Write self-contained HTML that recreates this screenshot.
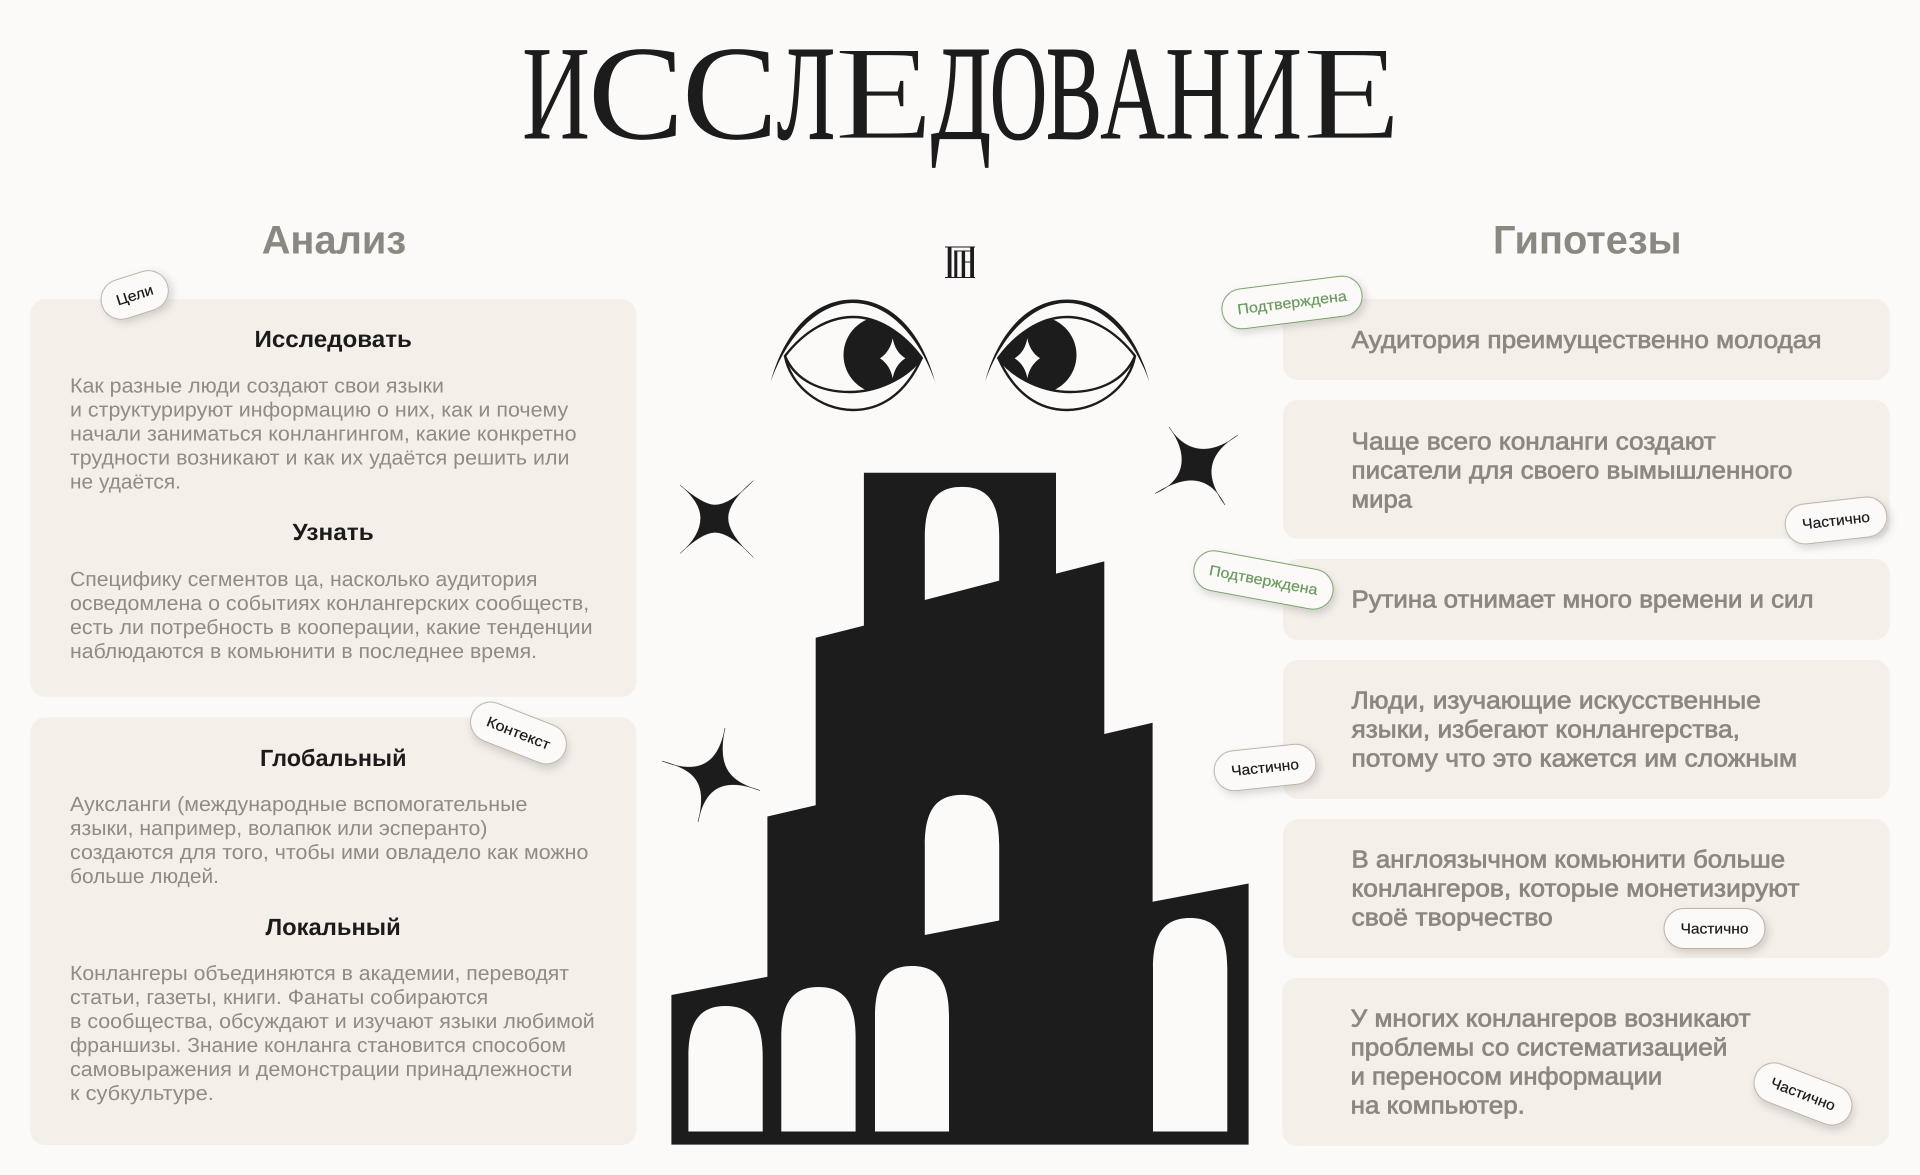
<!DOCTYPE html>
<html lang="ru">
<head>
<meta charset="utf-8">
<title>Исследование</title>
<style>
html,body{margin:0;padding:0;background:#fbfaf8;width:1920px;height:1175px;overflow:hidden}
svg{display:block;text-rendering:geometricPrecision}
text{font-family:"Liberation Sans",sans-serif}
.t{font-family:"Liberation Serif",serif;font-size:135px;fill:#1d1c1d}
.e{stroke:#fbfaf8;stroke-width:1.8px}
.f{stroke:#1d1c1d;stroke-width:1.2px}
.h{font-size:40px;font-weight:700;fill:#8a8880}
.s{font-size:23.5px;font-weight:700;fill:#1c1b1b}
.b{font-size:20.5px;fill:#8e8c85}
.r{font-size:24.5px;fill:#8a8880;stroke:#8a8880;stroke-width:.7px}
.p{font-size:14.5px;fill:#1a1a1a;stroke:#1a1a1a;stroke-width:.2px;text-anchor:middle}
.g{fill:#6a9a5e;stroke:#6a9a5e}
.pill{fill:#fbfaf8;stroke:#bdb1a6;stroke-width:1;filter:url(#sh)}
.gp{stroke:#76a068}
.card{fill:#f4efe9}
.k{fill:#1d1c1d}
.st{fill:#1d1c1d;stroke:#1d1c1d;stroke-width:.4px;stroke-linejoin:round}
.w{fill:#fbfaf8}
</style>
</head>
<body>
<svg width="1920" height="1175" viewBox="0 0 1920 1175" xmlns="http://www.w3.org/2000/svg">
<defs>
<filter id="sh" x="-30%" y="-50%" width="160%" height="220%"><feDropShadow dx="3" dy="4" stdDeviation="4" flood-color="#000" flood-opacity=".14"/></filter>
<clipPath id="lens"><path d="M785,356C805,330 830,317 853,317C880,317 905,335 921.7,358C905,380 875,392 850,392C820,392 795,380 785,356Z"/></clipPath>
<g id="eye">
<path class="k" d="M770.7,381.7C785,330 815,299.5 853,299.5C890,299.5 921,330 935,381.7C919,336 888,303 853,303C818,303 787,336 770.7,381.7Z"/>
<g clip-path="url(#lens)"><circle class="k" cx="882" cy="355" r="38.5"/><rect class="k" x="882" y="310" width="45" height="90"/></g>
<path fill="none" stroke="#1d1c1d" stroke-width="2.4" d="M785,356C805,330 830,317 853,317C880,317 905,335 921.7,358C905,380 875,392 850,392C820,392 795,380 785,356Z"/>
<path fill="none" stroke="#1d1c1d" stroke-width="2.4" d="M785,356C790,385 820,410 853,410C880,410 905,395 921.7,358"/>
<path class="w" d="M892.7,338.3Q895,352 905.4,358.3Q895,365 892.7,378.3Q890,365 880,358.3Q890,352 892.7,338.3Z"/>
</g>
</defs>

<rect width="1920" height="1175" fill="#fbfaf8"/>

<!-- title -->
<text class="t" x="522" y="138.5" textLength="68" lengthAdjust="spacingAndGlyphs">И</text>
<text class="t" x="588" y="138.5" textLength="96" lengthAdjust="spacingAndGlyphs">С</text>
<text class="t" x="682" y="138.5" textLength="96" lengthAdjust="spacingAndGlyphs">С</text>
<text class="t f" x="777" y="138.5" textLength="58" lengthAdjust="spacingAndGlyphs">Л</text>
<text class="t e" x="834" y="138.5" textLength="100" lengthAdjust="spacingAndGlyphs">Е</text>
<text class="t f" x="931" y="138.5" textLength="60" lengthAdjust="spacingAndGlyphs">Д</text>
<text class="t f" x="990" y="138.5" textLength="57" lengthAdjust="spacingAndGlyphs">О</text>
<text class="t f" x="1046" y="138.5" textLength="56" lengthAdjust="spacingAndGlyphs">В</text>
<text class="t" x="1100" y="138.5" textLength="65" lengthAdjust="spacingAndGlyphs">А</text>
<text class="t" x="1165" y="138.5" textLength="66" lengthAdjust="spacingAndGlyphs">Н</text>
<text class="t" x="1235" y="138.5" textLength="67" lengthAdjust="spacingAndGlyphs">И</text>
<text class="t e" x="1302" y="138.5" textLength="100" lengthAdjust="spacingAndGlyphs">Е</text>

<!-- headers -->
<text class="h" x="261.7" y="253.3" textLength="144.5" lengthAdjust="spacingAndGlyphs">Анализ</text>
<text class="h" x="1493" y="253.3" textLength="188.6" lengthAdjust="spacingAndGlyphs">Гипотезы</text>

<!-- cards -->
<rect class="card" x="30.3" y="299.3" width="606" height="397.5" rx="15"/>
<rect class="card" x="30.3" y="717.5" width="606" height="427.5" rx="15"/>
<rect class="card" x="1283" y="299" width="606.7" height="81" rx="15"/>
<rect class="card" x="1283" y="400" width="606.7" height="138.7" rx="15"/>
<rect class="card" x="1283" y="559" width="606.7" height="81" rx="15"/>
<rect class="card" x="1283" y="660" width="606.7" height="139" rx="15"/>
<rect class="card" x="1283" y="819" width="606.7" height="139" rx="15"/>
<rect class="card" x="1282.2" y="978" width="606.7" height="168" rx="15"/>

<!-- left text -->
<text class="s" x="254.5" y="347" textLength="157.4" lengthAdjust="spacingAndGlyphs">Исследовать</text>
<text class="b" x="70" y="392.3" textLength="374" lengthAdjust="spacingAndGlyphs">Как разные люди создают свои языки</text>
<text class="b" x="70" y="416.3" textLength="498.2" lengthAdjust="spacingAndGlyphs">и структурируют информацию о них, как и почему</text>
<text class="b" x="70" y="440.3" textLength="506.6" lengthAdjust="spacingAndGlyphs">начали заниматься конлангингом, какие конкретно</text>
<text class="b" x="70" y="464.3" textLength="499.4" lengthAdjust="spacingAndGlyphs">трудности возникают и как их удаётся решить или</text>
<text class="b" x="70" y="488.3" textLength="111" lengthAdjust="spacingAndGlyphs">не удаётся.</text>

<text class="s" x="292.5" y="540" textLength="81.2" lengthAdjust="spacingAndGlyphs">Узнать</text>
<text class="b" x="70" y="586" textLength="467.5" lengthAdjust="spacingAndGlyphs">Специфику сегментов ца, насколько аудитория</text>
<text class="b" x="70" y="610" textLength="519.2" lengthAdjust="spacingAndGlyphs">осведомлена о событиях конлангерских сообществ,</text>
<text class="b" x="70" y="634" textLength="522.6" lengthAdjust="spacingAndGlyphs">есть ли потребность в кооперации, какие тенденции</text>
<text class="b" x="70" y="658" textLength="467" lengthAdjust="spacingAndGlyphs">наблюдаются в комьюнити в последнее время.</text>

<text class="s" x="260" y="766" textLength="146.5" lengthAdjust="spacingAndGlyphs">Глобальный</text>
<text class="b" x="70" y="811" textLength="457.4" lengthAdjust="spacingAndGlyphs">Ауксланги (международные вспомогательные</text>
<text class="b" x="70" y="835" textLength="417.4" lengthAdjust="spacingAndGlyphs">языки, например, волапюк или эсперанто)</text>
<text class="b" x="70" y="859" textLength="518.4" lengthAdjust="spacingAndGlyphs">создаются для того, чтобы ими овладело как можно</text>
<text class="b" x="70" y="883" textLength="148.9" lengthAdjust="spacingAndGlyphs">больше людей.</text>

<text class="s" x="265.5" y="935" textLength="135.2" lengthAdjust="spacingAndGlyphs">Локальный</text>
<text class="b" x="70" y="980" textLength="499" lengthAdjust="spacingAndGlyphs">Конлангеры объединяются в академии, переводят</text>
<text class="b" x="70" y="1004" textLength="418.2" lengthAdjust="spacingAndGlyphs">статьи, газеты, книги. Фанаты собираются</text>
<text class="b" x="70" y="1028" textLength="524.7" lengthAdjust="spacingAndGlyphs">в сообщества, обсуждают и изучают языки любимой</text>
<text class="b" x="70" y="1052" textLength="496" lengthAdjust="spacingAndGlyphs">франшизы. Знание конланга становится способом</text>
<text class="b" x="70" y="1076" textLength="502.4" lengthAdjust="spacingAndGlyphs">самовыражения и демонстрации принадлежности</text>
<text class="b" x="70" y="1100" textLength="143.8" lengthAdjust="spacingAndGlyphs">к субкультуре.</text>

<!-- right text -->
<text class="r" x="1351.5" y="348" textLength="470" lengthAdjust="spacingAndGlyphs">Аудитория преимущественно молодая</text>
<text class="r" x="1351.5" y="449.3" textLength="364.3" lengthAdjust="spacingAndGlyphs">Чаще всего конланги создают</text>
<text class="r" x="1351.5" y="478.3" textLength="441" lengthAdjust="spacingAndGlyphs">писатели для своего вымышленного</text>
<text class="r" x="1351.5" y="507.3" textLength="60.5" lengthAdjust="spacingAndGlyphs">мира</text>
<text class="r" x="1351.5" y="607.6" textLength="462" lengthAdjust="spacingAndGlyphs">Рутина отнимает много времени и сил</text>
<text class="r" x="1351.5" y="708.6" textLength="409.4" lengthAdjust="spacingAndGlyphs">Люди, изучающие искусственные</text>
<text class="r" x="1351.5" y="737.6" textLength="388.4" lengthAdjust="spacingAndGlyphs">языки, избегают конлангерства,</text>
<text class="r" x="1351.5" y="766.6" textLength="445.6" lengthAdjust="spacingAndGlyphs">потому что это кажется им сложным</text>
<text class="r" x="1351.5" y="867.6" textLength="433.6" lengthAdjust="spacingAndGlyphs">В англоязычном комьюнити больше</text>
<text class="r" x="1351.5" y="896.6" textLength="448" lengthAdjust="spacingAndGlyphs">конлангеров, которые монетизируют</text>
<text class="r" x="1351.5" y="925.6" textLength="201.3" lengthAdjust="spacingAndGlyphs">своё творчество</text>
<text class="r" x="1350.6" y="1026.6" textLength="400" lengthAdjust="spacingAndGlyphs">У многих конлангеров возникают</text>
<text class="r" x="1350.6" y="1055.6" textLength="376.8" lengthAdjust="spacingAndGlyphs">проблемы со систематизацией</text>
<text class="r" x="1350.6" y="1084.6" textLength="311.6" lengthAdjust="spacingAndGlyphs">и переносом информации</text>
<text class="r" x="1350.6" y="1113.6" textLength="174.3" lengthAdjust="spacingAndGlyphs">на компьютер.</text>

<!-- monogram mark -->
<g class="k">
<rect x="945" y="246.5" width="30" height="1"/>
<rect x="945" y="277" width="30" height="1"/>
<rect x="947.7" y="247" width="3.8" height="30.5"/>
<rect x="954" y="250.5" width="19" height="1"/>
<rect x="954.3" y="250.5" width="3" height="27"/>
<rect x="961.7" y="250.5" width="3.4" height="27"/>
<rect x="965" y="261.5" width="6" height="1"/>
<rect x="970.2" y="247" width="3.8" height="30.5"/>
</g>

<!-- eyes -->
<use href="#eye"/>
<use href="#eye" transform="translate(1920,0) scale(-1,1)"/>

<!-- stars -->
<path class="st" d="M680,485Q703,505 715,505Q730,505 753.5,480.5Q728,502 728,518Q728,534 753.5,557.5Q730,532.4 715,532.4Q702,532.4 680,553.5Q700.6,536 700.6,518Q700.6,502 680,485Z"/>
<path class="st" d="M662,761C690,772 717,772 725,728C716,770 732,782 760,790.5C732,780 706,780 698,822C708,782 695,770 662,761Z"/>
<path class="st" d="M1155,493.5C1180,478 1207,470 1225,505C1205,478 1205,455 1238,435C1212,455 1187,455 1169,427C1188,452 1188,480 1155,493.5Z"/>

<!-- tower -->
<path class="k" fill-rule="evenodd" d="M671.4,995L767.4,976.8V816.5L815.7,805.2V637.8L863.9,625.6V472.8H1056V573.6L1104.3,561.4V734L1152.6,722.7V901.8L1248.6,883.5V1144.6H671.4Z
M924.8,600V537C924.8,500 938,486.9 962,486.9C986,486.9 999.2,500 999.2,537V580.6Z
M924.8,935V845C924.8,808 938,794.9 962,794.9C986,794.9 999.2,808 999.2,845V920.5Z
M688.4,1131.5V1056C688.4,1019 702,1006 725.5,1006C749,1006 762.7,1019 762.7,1056V1131.5Z
M781.3,1131.5V1037C781.3,1000 795,987 818.5,987C842,987 855.6,1000 855.6,1037V1131.5Z
M875,1131.5V1016C875,979 888.5,966 912,966C935.5,966 949,979 949,1016V1131.5Z
M1153,1131.5V968C1153,931 1166.5,918 1190,918C1213.5,918 1227.3,931 1227.3,968V1131.5Z"/>

<!-- tags -->
<g transform="translate(134.7,295) rotate(-17.7)"><rect class="pill" x="-34.3" y="-20" width="68.6" height="40" rx="20"/><text class="p" y="5" textLength="38" lengthAdjust="spacingAndGlyphs">Цели</text></g>
<g transform="translate(518.5,733) rotate(21.4)"><rect class="pill" x="-50" y="-20" width="100" height="40" rx="20"/><text class="p" y="5" textLength="67" lengthAdjust="spacingAndGlyphs">Контекст</text></g>
<g transform="translate(1292,302.5) rotate(-7.2)"><rect class="pill gp" x="-70.5" y="-20" width="141" height="40" rx="20"/><text class="p g" y="5" textLength="110" lengthAdjust="spacingAndGlyphs">Подтверждена</text></g>
<g transform="translate(1836,520.5) rotate(-6.5)"><rect class="pill" x="-51" y="-20" width="102" height="40" rx="20"/><text class="p" y="5" textLength="68" lengthAdjust="spacingAndGlyphs">Частично</text></g>
<g transform="translate(1263.5,580) rotate(10.5)"><rect class="pill gp" x="-70.5" y="-20" width="141" height="40" rx="20"/><text class="p g" y="5" textLength="110" lengthAdjust="spacingAndGlyphs">Подтверждена</text></g>
<g transform="translate(1265,767.5) rotate(-6)"><rect class="pill" x="-51" y="-20" width="102" height="40" rx="20"/><text class="p" y="5" textLength="68" lengthAdjust="spacingAndGlyphs">Частично</text></g>
<g transform="translate(1714.5,928.5)"><rect class="pill" x="-50.5" y="-20" width="101" height="40" rx="20"/><text class="p" y="5" textLength="68" lengthAdjust="spacingAndGlyphs">Частично</text></g>
<g transform="translate(1803,1094) rotate(21)"><rect class="pill" x="-51" y="-20" width="102" height="40" rx="20"/><text class="p" y="5" textLength="68" lengthAdjust="spacingAndGlyphs">Частично</text></g>
</svg>
</body>
</html>
